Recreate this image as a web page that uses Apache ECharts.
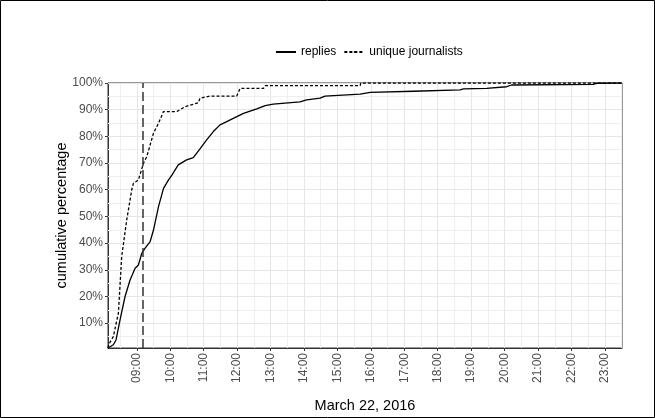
<!DOCTYPE html>
<html>
<head>
<meta charset="utf-8">
<script src="https://cdn.jsdelivr.net/npm/echarts@6/dist/echarts.min.js"></script>
<style>
html,body{margin:0;padding:0;background:#fff;}
#c{width:655px;height:418px;}
</style>
</head>
<body>
<div id="c"></div>
<script>
// Hours of the day (decimal) and cumulative percentages
const repliesHours = [8.14,8.18,8.30,8.38,8.50,8.65,8.80,8.95,9.05,9.15,9.25,9.40,9.50,9.65,9.80,9.95,10.05,10.24,10.49,10.69,10.89,11.09,11.29,11.49,11.69,12.19,12.59,12.84,13.08,13.88,14.08,14.48,14.63,15.68,15.98,17.27,18.67,18.77,19.46,20.06,20.21,22.65,22.75,23.51];
const repliesPct   = [0.7,1.2,1.9,3.7,11.2,20,26.2,30.6,31.8,36.2,38.1,40.6,44.9,53.7,60.5,63.7,65.5,69.3,71.2,72.0,75.3,78.7,81.8,84.3,85.5,88.6,90.3,91.5,92.1,92.9,93.7,94.3,95.1,95.8,96.5,96.9,97.4,97.8,98.0,98.6,99.25,99.5,99.9,100];
const journHours = [8.14,8.16,8.30,8.45,8.55,8.70,8.85,8.90,9.05,9.20,9.30,9.50,9.65,9.80,10.20,10.44,10.84,10.89,11.19,11.99,12.09,12.79,12.84,15.68,15.70,23.51];
const journPct   = [0.7,1.9,5,13.7,35,48.7,60,62.4,63.7,69.9,72.4,81.2,84.9,89.3,89.3,91.1,92.6,94.3,95.1,95.1,98.0,98.0,99.0,99.0,100,100];

const xTickValues = [9,10,11,12,13,14,15,16,17,18,19,20,21,22,23];
const xTickLabels = ['09:00','10:00','11:00','12:00','13:00','14:00','15:00','16:00','17:00','18:00','19:00','20:00','21:00','22:00','23:00'];
const xMinorValues = [8.5,9.5,10.5,11.5,12.5,13.5,14.5,15.5,16.5,17.5,18.5,19.5,20.5,21.5,22.5,23.5];
const yTickValues = [10,20,30,40,50,60,70,80,90,100];
const yMinorValues = [5,15,25,35,45,55,65,75,85,95];
const eventHour = 9.18;
const xRange = [8.14, 23.51];
const yRange = [0.7, 100];

const seriesNames = ['replies','unique journalists'];

function pairs(xs, ys){ return xs.map((x,i)=>[x, ys[i]]); }

const gridLines = []
  .concat(xMinorValues.map(v=>({xAxis:v, lineStyle:{color:'#EFEFEF', width:1, type:'solid'}})))
  .concat(yMinorValues.map(v=>({yAxis:v, lineStyle:{color:'#EFEFEF', width:1, type:'solid'}})))
  .concat(xTickValues.map(v=>({xAxis:v, lineStyle:{color:'#E6E6E6', width:1, type:'solid'}})))
  .concat(yTickValues.map(v=>({yAxis:v, lineStyle:{color:'#E6E6E6', width:1, type:'solid'}})));

const chart = echarts.init(document.getElementById('c'), null, {renderer:'canvas'});
const font = 'Liberation Sans, Arial, Helvetica, sans-serif';
chart.setOption({
  animation:false,
  backgroundColor:'#ffffff',
  textStyle:{fontFamily:font},
  graphic:[{
    type:'rect', silent:true, z:100,
    shape:{x:0.5, y:0.5, width:654, height:417},
    style:{fill:'none', stroke:'#000', lineWidth:1}
  }],
  legend:{
    data:seriesNames,
    top:41, left:270,
    itemWidth:20, itemHeight:2, itemGap:7,
    textStyle:{fontSize:12, color:'#000', fontFamily:font}
  },
  grid:{left:108, right:33, top:83, bottom:70, show:true, borderColor:'#333333', borderWidth:1, backgroundColor:'#fff'},
  xAxis:{
    type:'value', min:xRange[0], max:xRange[1],
    name:'March 22, 2016', nameLocation:'middle', nameGap:50,
    nameTextStyle:{fontSize:14.5, color:'#000', fontFamily:font},
    axisLine:{show:true, lineStyle:{color:'#333', width:1}},
    axisTick:{show:true, length:3, lineStyle:{color:'#333'}, customValues:xTickValues},
    axisLabel:{rotate:90, fontSize:12, color:'#4D4D4D', margin:5, fontFamily:font,
      customValues:xTickValues,
      formatter:(v)=>{ const i = xTickValues.indexOf(Math.round(v)); return i>=0 ? xTickLabels[i] : ''; }},
    splitLine:{show:false}
  },
  yAxis:{
    type:'value', min:yRange[0], max:yRange[1],
    name:'cumulative percentage', nameLocation:'middle', nameGap:39, nameMoveOverlap:false,
    nameTextStyle:{fontSize:14.5, color:'#000', fontFamily:font},
    axisLine:{show:true, lineStyle:{color:'#333', width:1}},
    axisTick:{show:true, length:3, lineStyle:{color:'#333'}, customValues:yTickValues},
    axisLabel:{fontSize:12, color:'#4D4D4D', margin:5, fontFamily:font,
      customValues:yTickValues, formatter:(v)=>Math.round(v)+'%'},
    splitLine:{show:false}
  },
  series:[
    {
      name:'_grid', type:'line', z:1, silent:true,
      data:[[xRange[0], yRange[0]]], showSymbol:false, symbol:'none',
      lineStyle:{opacity:0},
      markLine:{z:1, silent:true, symbol:'none', label:{show:false}, animation:false, data:gridLines}
    },
    {
      name:seriesNames[0], type:'line', z:3, symbol:'none', showSymbol:false,
      data:pairs(repliesHours, repliesPct),
      lineStyle:{color:'#000', width:1.3, type:'solid'},
      itemStyle:{color:'#000'},
      markLine:{z:4, silent:true, symbol:'none', label:{show:false},
        lineStyle:{color:'#333', width:1.5, type:[9,4]},
        data:[{xAxis:eventHour}]}
    },
    {
      name:seriesNames[1], type:'line', z:3, symbol:'none', showSymbol:false,
      data:pairs(journHours, journPct),
      lineStyle:{color:'#000', width:1.3, type:[3,2]},
      itemStyle:{color:'#000'}
    }
  ]
});
</script>
</body>
</html>
